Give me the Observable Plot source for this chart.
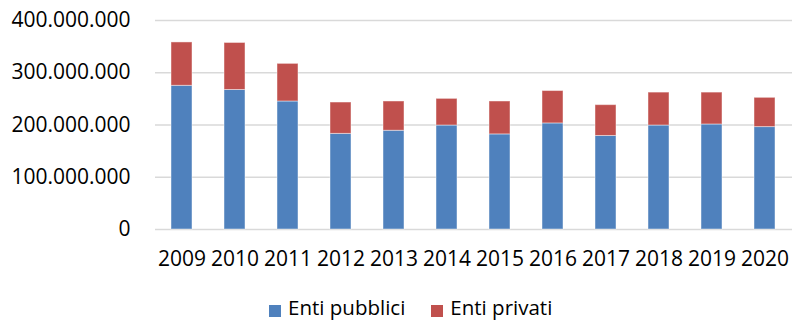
<!DOCTYPE html>
<html>
<head>
<meta charset="utf-8">
<script src="https://cdn.jsdelivr.net/npm/d3@7"></script>
<script src="https://cdn.jsdelivr.net/npm/@observablehq/plot@0.6"></script>
<style>
  html, body { margin: 0; padding: 0; background: #fff; }
  #wrap { position: relative; width: 792px; height: 322px; overflow: hidden; }
  #legend { position: absolute; top: 297px; left: 269px; display: flex; align-items: flex-start;
            font-family: "Open Sans", sans-serif; font-size: 20.5px; line-height: 21px; color: #000; }
  .item { display: flex; align-items: flex-start; margin-right: 26px; }
  .sw { width: 12px; height: 12px; margin-top: 8px; margin-right: 7px; }
</style>
</head>
<body>
<div id="wrap"></div>
<script>
const years = ["2009","2010","2011","2012","2013","2014","2015","2016","2017","2018","2019","2020"];
const entiPubblici = [275000000, 267000000, 245000000, 183000000, 189000000, 199000000, 182000000, 203000000, 179000000, 199000000, 201000000, 196000000];
const entiPrivati  = [83000000, 90000000, 72000000, 60000000, 56000000, 51000000, 63000000, 62000000, 59000000, 63000000, 61000000, 56000000];
const seriesNames = ["Enti pubblici", "Enti privati"];
const seriesColors = ["#4F81BD", "#C0504D"];
const yTicks = [0, 100000000, 200000000, 300000000, 400000000];

const data = [];
years.forEach((y, i) => {
  data.push({year: y, series: seriesNames[0], value: entiPubblici[i]});
  data.push({year: y, series: seriesNames[1], value: entiPrivati[i]});
});

const it = d3.formatLocale({decimal: ",", thousands: ".", grouping: [3], currency: ["€", ""]});
const fmt = it.format(",d");

const chart = Plot.plot({
  width: 792,
  height: 296,
  marginLeft: 155,
  marginRight: 0,
  marginTop: 20,
  marginBottom: 67,
  style: {fontFamily: "Open Sans, sans-serif", fontSize: "21px", color: "#000", background: "#fff"},
  x: {domain: years, paddingInner: 0.6, paddingOuter: 0.3, label: null},
  y: {domain: [0, 400000000], label: null},
  color: {domain: seriesNames, range: seriesColors},
  marks: [
    Plot.ruleY(yTicks, {stroke: "#d9d9d9", strokeWidth: 1.5}),
    Plot.barY(data, {x: "year", y: "value", fill: "series", stroke: "#fff", strokeOpacity: 0.45, strokeWidth: 1}),
    Plot.axisY({ticks: yTicks, tickFormat: fmt, tickSize: 0, tickPadding: 25, label: null, fill: "#000"}),
    Plot.axisX({tickSize: 0, tickPadding: 22, label: null, fill: "#000"})
  ]
});

const wrap = document.getElementById("wrap");
wrap.appendChild(chart);

const legend = document.createElement("div");
legend.id = "legend";
seriesNames.forEach((name, i) => {
  const item = document.createElement("div");
  item.className = "item";
  const sw = document.createElement("div");
  sw.className = "sw";
  sw.style.background = seriesColors[i];
  const t = document.createElement("span");
  t.textContent = name;
  item.appendChild(sw);
  item.appendChild(t);
  legend.appendChild(item);
});
wrap.appendChild(legend);
</script>
</body>
</html>
